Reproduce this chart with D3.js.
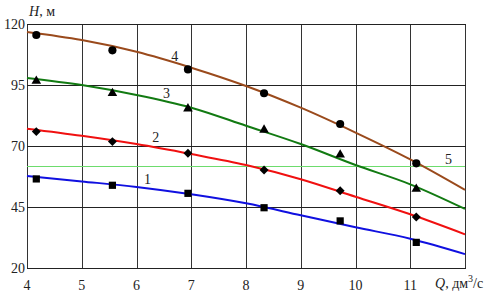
<!DOCTYPE html>
<html>
<head>
<meta charset="utf-8">
<script src="https://cdn.jsdelivr.net/npm/d3@7"></script>
<style>
  body { margin: 0; background: #fff; }
  text { font-family: "Liberation Serif", serif; font-size: 14px; }
</style>
</head>
<body>
<svg id="chart" width="488" height="296"></svg>
<script>
// flow Q, dm3/s at which curves were read, and at which markers sit
var qCurve = [4, 5, 6, 7, 8, 9, 10, 11, 12];
var qMarks = [4.17, 5.56, 6.94, 8.33, 9.72, 11.11];

// head H, m — curves 1..4
var curve1 = [57.7, 55.5, 53.2, 50.2, 46.5, 41.6, 36.7, 32.0, 25.7];
var curve2 = [77.1, 74.2, 70.8, 66.7, 62.2, 56.4, 49.2, 42.0, 33.8];
var curve3 = [97.9, 95.0, 90.9, 85.7, 78.3, 70.8, 62.2, 54.3, 44.2];
var curve4 = [116.7, 113.4, 108.6, 102.1, 94.6, 85.7, 75.5, 64.5, 52.0];

// measured points
var marks1 = [56.5, 53.9, 50.6, 44.7, 39.3, 30.5];
var marks2 = [75.9, 71.8, 67.0, 60.2, 51.7, 40.9];
var marks3 = [96.6, 91.6, 85.3, 76.6, 66.4, 52.4];
var marks4 = [115.5, 109.2, 101.4, 91.6, 79.0, 62.9];

// line 5 — constant head
var line5 = 62;

var xTicks = [4, 5, 6, 7, 8, 9, 10, 11];
var yTicks = [20, 45, 70, 95, 120];

var svg = d3.select("#chart");
var x = d3.scaleLinear().domain([4, 12]).range([27, 465]);
var y = d3.scaleLinear().domain([20, 120]).range([268, 24]);

// grid
var grid = svg.append("g");
grid.selectAll("line.v")
  .data(d3.range(4, 13))
  .enter().append("line")
    .attr("x1", d => Math.round(x(d)) + 0.5)
    .attr("x2", d => Math.round(x(d)) + 0.5)
    .attr("y1", y(120))
    .attr("y2", y(20))
    .attr("stroke", "#333")
    .attr("stroke-width", 1);
grid.selectAll("line.h")
  .data(yTicks)
  .enter().append("line")
    .attr("x1", x(4))
    .attr("x2", x(12) + 1)
    .attr("y1", d => Math.round(y(d)) + 0.5)
    .attr("y2", d => Math.round(y(d)) + 0.5)
    .attr("stroke", "#222")
    .attr("stroke-width", 1);

// tick labels
svg.append("g").selectAll("text")
  .data(yTicks)
  .enter().append("text")
    .attr("x", 25)
    .attr("y", d => y(d))
    .attr("dy", "0.35em")
    .attr("text-anchor", "end")
    .attr("fill", "#222")
    .text(d => d);
svg.append("g").selectAll("text")
  .data(xTicks)
  .enter().append("text")
    .attr("x", d => x(d))
    .attr("y", 290)
    .attr("text-anchor", "middle")
    .attr("fill", "#222")
    .text(d => d);

// axis titles
var ht = svg.append("text").attr("x", 29).attr("y", 16).attr("fill", "#222");
ht.append("tspan").style("font-style", "italic").text("H");
ht.append("tspan").text(", м");

var qt = svg.append("text").attr("x", 435).attr("y", 288).attr("fill", "#222");
qt.append("tspan").style("font-style", "italic").text("Q");
qt.append("tspan").text(", дм");
qt.append("tspan").attr("dy", -6).style("font-size", "10px").text("3");
qt.append("tspan").attr("dy", 6).text("/с");

// line 5
svg.append("line")
  .attr("x1", x(4)).attr("x2", x(12))
  .attr("y1", Math.round(y(line5)) + 0.5).attr("y2", Math.round(y(line5)) + 0.5)
  .attr("stroke", "#6ddc6d")
  .attr("stroke-width", 1);

// curves
var curves = [
  { h: curve1, m: marks1, color: "#1010e0", sym: d3.symbolSquare, size: 52, rot: 0 },
  { h: curve2, m: marks2, color: "#f01010", sym: d3.symbolSquare, size: 40, rot: 45 },
  { h: curve3, m: marks3, color: "#127a12", sym: d3.symbolTriangle, size: 40, rot: 0 },
  { h: curve4, m: marks4, color: "#9a4a1c", sym: d3.symbolCircle, size: 52, rot: 0 }
];

var line = d3.line()
  .x((d, i) => x(qCurve[i]))
  .y(d => y(d))
  .curve(d3.curveCatmullRom);

curves.forEach(function(c) {
  svg.append("path")
    .attr("d", line(c.h))
    .attr("fill", "none")
    .attr("stroke", c.color)
    .attr("stroke-width", 2);
});

curves.forEach(function(c) {
  svg.append("g").selectAll("path")
    .data(c.m)
    .enter().append("path")
      .attr("transform", (d, i) => "translate(" + x(qMarks[i]) + "," + y(d) + ") rotate(" + c.rot + ")")
      .attr("d", d3.symbol().type(c.sym).size(c.size))
      .attr("fill", "#000");
});

// curve numbers
var labels = [
  { t: "1", q: 6.2, h: 56.5 },
  { t: "2", q: 6.35, h: 73.5 },
  { t: "3", q: 6.55, h: 91.5 },
  { t: "4", q: 6.7, h: 107 },
  { t: "5", q: 11.7, h: 64.5 }
];
svg.append("g").selectAll("text")
  .data(labels)
  .enter().append("text")
    .attr("x", d => x(d.q))
    .attr("y", d => y(d.h))
    .attr("dy", "0.35em")
    .attr("text-anchor", "middle")
    .attr("fill", "#222")
    .text(d => d.t);
</script>
</body>
</html>
